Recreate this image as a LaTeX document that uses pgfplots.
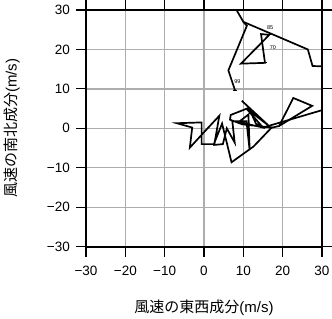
\documentclass[border=0pt]{standalone}
\usepackage{pgfplots}
\pgfplotsset{compat=1.18}
\usepackage{fontspec}
\setmainfont{Liberation Sans}
\newfontfamily\cjk{Noto Sans CJK JP}
\begin{document}
\begin{tikzpicture}
\begin{axis}[
  scale only axis,
  width=236bp, height=236.7bp,
  xmin=-30, xmax=30, ymin=-30, ymax=30,
  xtick={-30,-20,...,30}, ytick={-30,-20,...,30},
  xticklabels={−30,−20,−10,0,10,20,30},
  yticklabels={−30,−20,−10,0,10,20,30},
  tick align=outside,
  major tick length=10bp,
  tick style={black, line width=1.1bp},
  axis line style={black, line width=1.8bp},
  grid=major,
  major grid style={black!32, line width=1.3bp},
  /pgf/number format/assume math mode=true,
  ticklabel style={font=\fontsize{13.5bp}{15bp}\selectfont},
  xticklabel style={inner sep=0pt, anchor=north, yshift=-9bp},
  yticklabel style={inner sep=0pt, anchor=east, xshift=-6bp},
  xlabel={{\cjk 風速の東西成分}(m/s)},
  ylabel={{\cjk 風速の南北成分}(m/s)},
  every axis x label/.style={at={(axis description cs:0.5,0)}, anchor=center, yshift=-61bp, font=\fontsize{15bp}{18bp}\selectfont},
  every axis y label/.style={at={(axis description cs:0,0.5)}, anchor=center, xshift=-74bp, rotate=90, font=\fontsize{15bp}{18bp}\selectfont},
]
% upper part
\addplot[black, line width=1.7bp] coordinates {(7.4,31.5) (10.0,27.0) (26.4,20.0) (27.6,15.8) (31,15.7)};
\addplot[black, line width=1.7bp] coordinates {(10.0,27.0) (10.9,26.0) (6.2,14.7) (7.9,9.6)};
\addplot[black, line width=1.7bp] coordinates {(16.6,23.7) (14.5,23.9) (15.5,16.6) (9.4,16.4) (16.6,23.7)};
% cluster
\addplot[black, line width=1.7bp] coordinates {
(9.6,7.0) (16.3,0.8) (10.8,5.0) (15.0,0.2) (8.8,1.6) (11.3,3.5) (11.6,-5.5)
(10.8,1.8) (7.2,1.8) (7.8,-3.6) (5.8,0.0) (4.8,-4.0) (2.6,-4.2) (3.9,3.2)
(-0.2,-1.2) (-3.6,-4.9) (-3.0,0.2) (-6.9,1.3) (-0.6,1.5) (-0.6,-4.0) (2.5,-4.0)
(4.6,1.2) (7.0,-8.6) (12.6,-4.6) (17.2,0.2) (9.8,1.0) (6.6,2.2) (6.8,3.4)
(11.4,5.2) (13.2,1.2) (15.0,0.2) (31,4.9)};
\addplot[black, line width=1.7bp] coordinates {(17.0,0.1) (19.1,0.6) (22.7,7.7) (27.5,5.7) (19.1,0.6)};
% level marks
\addplot[only marks, mark=-, mark size=1.8bp, mark options={line width=0.8bp}] coordinates {(7.9,9.6) (16.6,23.7) (15.5,16.6)};
\node[font=\fontsize{5.5bp}{6bp}\selectfont, inner sep=0pt] at (axis cs:8.5,11.8) {99};
\node[font=\fontsize{5.5bp}{6bp}\selectfont, inner sep=0pt] at (axis cs:16.8,25.5) {85};
\node[font=\fontsize{5.5bp}{6bp}\selectfont, inner sep=0pt] at (axis cs:17.5,20.4) {70};
\end{axis}
\pgfresetboundingbox
\useasboundingbox ([xshift=-86bp,yshift=-72.3bp]current axis.south west) rectangle ([xshift=10bp,yshift=10bp]current axis.north east);
\end{tikzpicture}
\end{document}
